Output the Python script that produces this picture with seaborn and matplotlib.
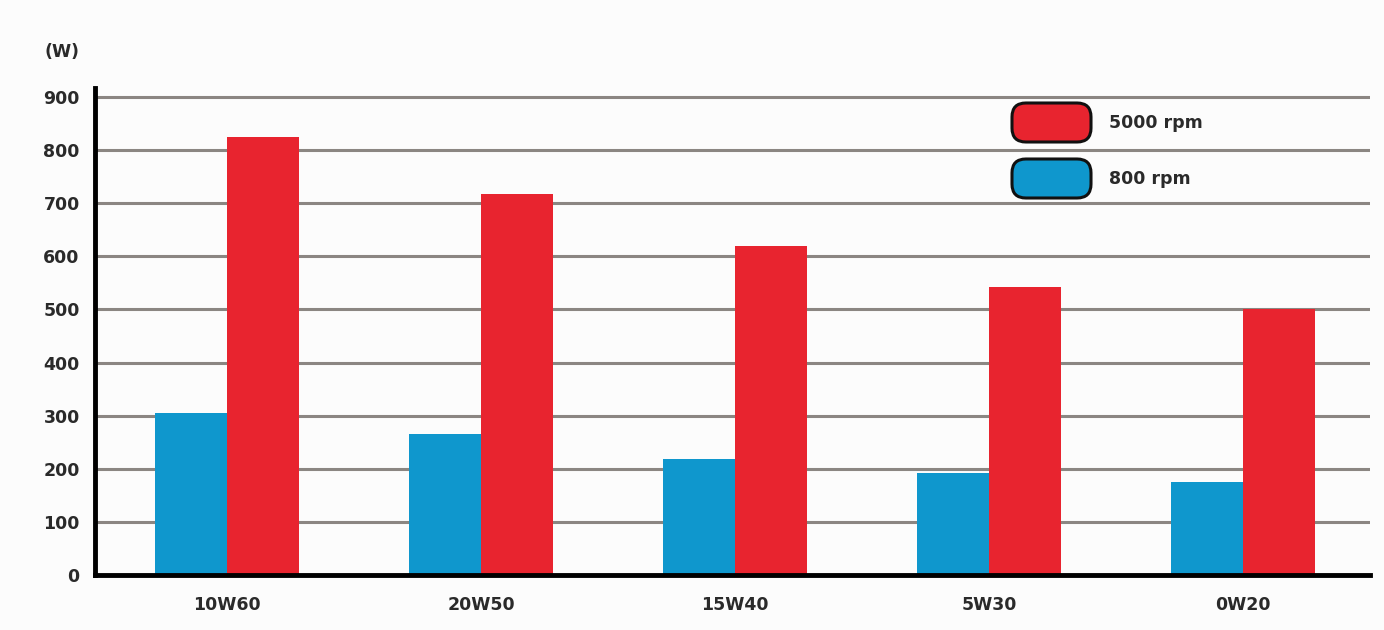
import matplotlib
matplotlib.use("Agg")
import matplotlib.pyplot as plt
import seaborn as sns
import pandas as pd
from matplotlib.patches import FancyBboxPatch, Patch
from matplotlib.legend_handler import HandlerPatch

# Power loss by oil grade at two engine speeds
grades = ["10W60", "20W50", "15W40", "5W30", "0W20"]
power_800 = [305, 266, 218, 192, 176]
power_5000 = [825, 717, 620, 543, 501]
speed_labels = ["800 rpm", "5000 rpm"]
y_ticks = [0, 100, 200, 300, 400, 500, 600, 700, 800, 900]

colors = {"800 rpm": "#0f97cd", "5000 rpm": "#e8242f"}

df = pd.DataFrame({
    "grade": grades * 2,
    "power": power_800 + power_5000,
    "speed": [speed_labels[0]] * len(grades) + [speed_labels[1]] * len(grades),
})

sns.set_theme(style="white")
plt.rcParams["font.family"] = ["DejaVu Sans"]
plt.rcParams["font.weight"] = "bold"

text_color = "#2a2a2a"
fs = 12.5

fig = plt.figure(figsize=(13.84, 6.30), dpi=100)
fig.patch.set_facecolor("#fcfcfc")
ax = fig.add_axes([95 / 1384, 1 - 575 / 630, (1370 - 95) / 1384, (575 - 88) / 630])
ax.set_facecolor("#fcfcfc")

sns.barplot(data=df, x="grade", y="power", hue="speed", order=grades,
            hue_order=speed_labels, palette=colors, width=0.567,
            saturation=1, linewidth=0, ax=ax, legend=False, zorder=3)

ax.set_xlim(-0.52, 4.5)
ax.set_ylim(0, 917)
ax.set_yticks(y_ticks)
ax.set_yticklabels([str(v) for v in y_ticks], fontsize=fs, color=text_color,
                   fontweight="bold")
ax.set_xticklabels(grades, fontsize=fs, color=text_color, fontweight="bold")
ax.tick_params(axis="y", length=0, pad=11)
ax.tick_params(axis="x", length=0, pad=15)
ax.set_xlabel("")
ax.set_ylabel("")

# Horizontal gridlines behind the bars
for v in y_ticks[1:]:
    ax.axhline(v, color="#8b8682", linewidth=2.2, zorder=1)

for side in ["top", "right"]:
    ax.spines[side].set_visible(False)
ax.spines["left"].set_linewidth(3.5)
ax.spines["left"].set_color("black")
ax.spines["bottom"].set_linewidth(3.5)
ax.spines["bottom"].set_color("black")
ax.spines["bottom"].set_zorder(5)

fig.text(62 / 1384, 1 - 52 / 630, "(W)", ha="center", va="center",
         fontsize=fs, color=text_color, fontweight="bold")


class RoundedHandler(HandlerPatch):
    def create_artists(self, legend, orig_handle, xdescent, ydescent,
                       width, height, fontsize, trans):
        p = FancyBboxPatch((-xdescent, -ydescent), width, height,
                           boxstyle="round,pad=0,rounding_size=10",
                           facecolor=orig_handle.get_facecolor(),
                           edgecolor="#111111", linewidth=2.2,
                           transform=trans)
        return [p]


handles = [Patch(facecolor=colors["5000 rpm"]), Patch(facecolor=colors["800 rpm"])]
labels = ["5000 rpm", "800 rpm"]
fs_px = fs * 100 / 72
box_h = 39 / fs_px
leg = fig.legend(handles, labels, loc="upper left",
                 bbox_to_anchor=(1012 / 1384, 1 - 103 / 630),
                 frameon=False, borderpad=0, borderaxespad=0,
                 handlelength=79 / fs_px, handleheight=(box_h - 0.245) / 0.65,
                 labelspacing=17 / fs_px, handletextpad=18 / fs_px,
                 prop={"size": fs, "weight": "bold"},
                 handler_map={Patch: RoundedHandler()})
for t in leg.get_texts():
    t.set_color(text_color)

fig.savefig("out.png", dpi=100, facecolor=fig.get_facecolor())
